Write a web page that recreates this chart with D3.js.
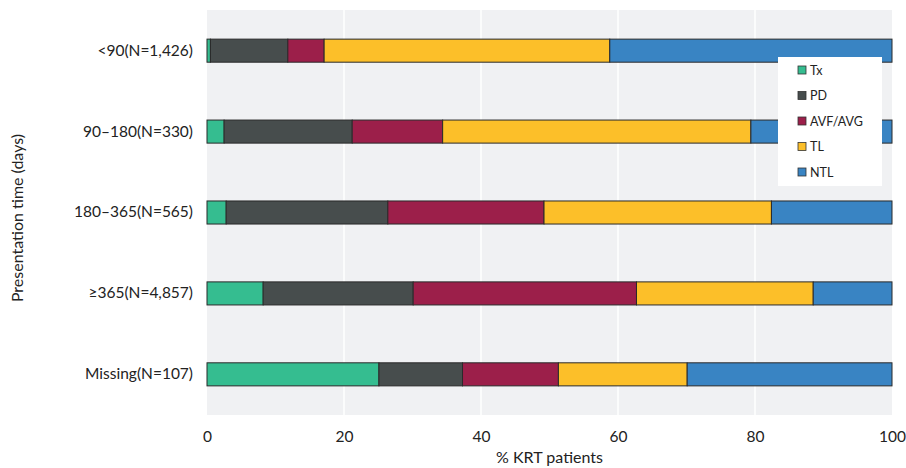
<!DOCTYPE html>
<html><head><meta charset="utf-8">
<script src="https://cdn.jsdelivr.net/npm/d3@7"></script>
<style>body{margin:0;background:#fff}svg{display:block}text{font-family:Lato,"Open Sans",sans-serif;fill:#222}</style>
</head><body><svg id="c" width="906" height="468"></svg>
<script>
const categories = ["<90(N=1,426)", "90–180(N=330)", "180–365(N=565)", "≥365(N=4,857)", "Missing(N=107)"];
const seriesNames = ["Tx", "PD", "AVF/AVG", "TL", "NTL"];
const Tx  = [0.5, 2.5, 2.8, 8.2, 25.1];
const PD  = [11.3, 18.7, 23.6, 21.9, 12.2];
const AVF = [5.3, 13.2, 22.8, 32.6, 14.0];
const TL  = [41.7, 45.0, 33.2, 25.8, 18.8];
const NTL = [41.2, 20.6, 17.6, 11.5, 29.9];
const xTicks = [0, 20, 40, 60, 80, 100];
const colors = ["#35bd90", "#474d4d", "#9c1f4a", "#fcbf29", "#3984c3"];

const rows = categories.map((c, i) => ({cat: c, Tx: Tx[i], PD: PD[i], "AVF/AVG": AVF[i], TL: TL[i], NTL: NTL[i]}));
const stack = d3.stack().keys(seriesNames)(rows);

const svg = d3.select("#c");
const m = {l: 207, r: 892, t: 10, b: 415};
const x = d3.scaleLinear().domain([0, 100]).range([m.l, m.r]);
const y = d3.scaleBand().domain(categories).range([m.t, m.b]).paddingInner(0.715).paddingOuter(0.36);
const color = d3.scaleOrdinal().domain(seriesNames).range(colors);

svg.append("rect").attr("x", m.l).attr("y", m.t).attr("width", m.r - m.l).attr("height", m.b - m.t).attr("fill", "#f0f1f3");
svg.append("g").selectAll("line").data(xTicks.slice(1, -1)).join("line")
  .attr("x1", d => x(d)).attr("x2", d => x(d)).attr("y1", m.t).attr("y2", m.b)
  .attr("stroke", "#fff").attr("stroke-width", 1.5);

svg.append("g").selectAll("g").data(stack).join("g").attr("fill", d => color(d.key))
  .selectAll("rect").data(d => d).join("rect")
  .attr("x", d => x(d[0])).attr("width", d => x(d[1]) - x(d[0]))
  .attr("y", d => y(d.data.cat)).attr("height", y.bandwidth())
  .attr("stroke", "#2a2a2a").attr("stroke-width", 1);

const xa = svg.append("g").attr("transform", `translate(0,${m.b})`)
  .call(d3.axisBottom(x).tickValues(xTicks).tickSize(0).tickPadding(16));
xa.select(".domain").remove();
xa.selectAll("text").attr("font-size", 15.5).attr("fill", "#222").style("font-family", "Lato, sans-serif");

const ya = svg.append("g").attr("transform", `translate(${m.l},0)`)
  .call(d3.axisLeft(y).tickSize(0).tickPadding(14));
ya.select(".domain").remove();
ya.selectAll("text").attr("font-size", 15.5).attr("fill", "#222").style("font-family", "Lato, sans-serif");

svg.append("text").attr("x", x(50)).attr("y", 463).attr("text-anchor", "middle").attr("font-size", 16).text("% KRT patients");
svg.append("text").attr("transform", "translate(23,218) rotate(-90)").attr("text-anchor", "middle").attr("font-size", 16).text("Presentation time (days)");

const lg = svg.append("g");
lg.append("rect").attr("x", 778).attr("y", 57).attr("width", 104).attr("height", 129).attr("fill", "#fff");
const li = lg.selectAll("g").data(seriesNames).join("g").attr("transform", (d, i) => `translate(798,${70 + i * 25.5})`);
li.append("rect").attr("x", 0).attr("y", -4).attr("width", 8).attr("height", 8).attr("fill", d => color(d)).attr("stroke", "#333").attr("stroke-width", 0.8);
li.append("text").attr("x", 12).attr("y", 4.5).attr("font-size", 12.5).text(d => d);
</script></body></html>
